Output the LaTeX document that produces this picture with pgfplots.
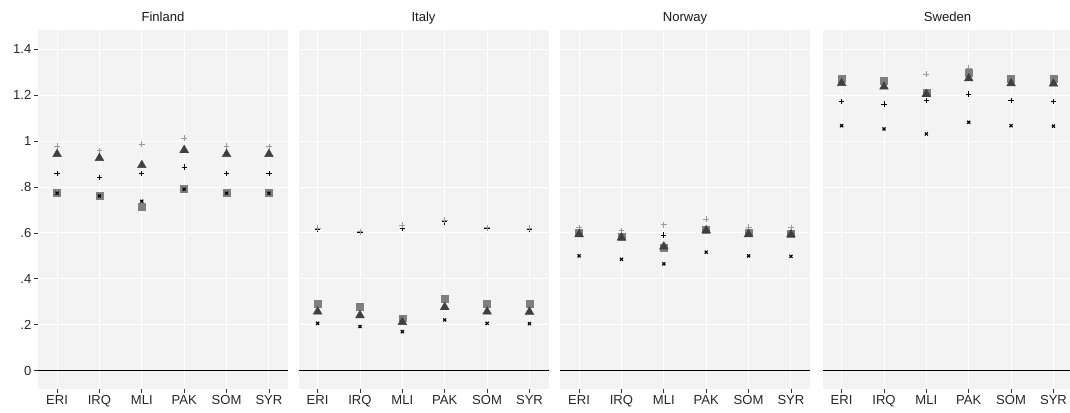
\documentclass[border=0pt]{standalone}
\usepackage{fontspec}
\setmainfont{Liberation Sans}
\usepackage{pgfplots}
\pgfplotsset{compat=1.18}
\definecolor{panelbg}{HTML}{F3F3F3}
\definecolor{lpc}{HTML}{9A9A9A}
\definecolor{sqc}{HTML}{7F7F7F}
\definecolor{trc}{HTML}{404040}
\definecolor{tickc}{HTML}{333333}
\pgfplotsset{
  panel/.style={
    scale only axis, width=187.5pt, height=269.25pt,
    xmin=-0.45, xmax=5.45, ymin=-0.08, ymax=1.484,
    axis background/.style={fill=panelbg},
    axis line style={draw=none},
    xtick={0,1,2,3,4,5},
    xticklabels={ERI,IRQ,MLI,PAK,SOM,SYR},
    ytick={0,0.2,0.4,0.6,0.8,1,1.2,1.4},
    grid=major, grid style={white, line width=0.7pt},
    tick align=outside, major tick length=3pt,
    tick style={tickc, line width=0.5pt},
    xtick pos=left, ytick pos=left,
    ticklabel style={font=\fontsize{9.8}{11}\selectfont, text=black!85},
    xticklabel style={yshift=1.5pt},
    yticklabel style={xshift=1.5pt},
    clip=false,
  },
  lp/.style={only marks, mark=+, mark size=2.2pt, lpc, mark options={line width=0.6pt}},
  bp/.style={only marks, mark=+, mark size=2pt, black, mark options={line width=0.6pt}},
  sq/.style={only marks, mark=square*, mark size=2.6pt, sqc, mark options={draw=sqc, fill=sqc}},
  tr/.style={only marks, mark=triangle*, mark size=3.7pt, trc, mark options={draw=trc, fill=trc}},
  xx/.style={only marks, mark=x, mark size=1.6pt, black, mark options={line width=0.9pt}},
}
\newcommand{\zeroline}{\draw[black, line width=0.6pt] ({rel axis cs:0,0}|-{axis cs:0,0}) -- ({rel axis cs:1,0}|-{axis cs:0,0});}
\newcommand{\paneltitle}[1]{\node[anchor=base, font=\fontsize{9.8}{11}\selectfont, text=black!90, yshift=6pt] at (rel axis cs:0.5,1) {#1};}
\begin{document}
\begin{tikzpicture}
\useasboundingbox (0,0) rectangle (802.5pt,309.75pt);
% Finland
\begin{axis}[panel, at={(28.5pt,18pt)}, anchor=south west,
  yticklabels={0,.2,.4,.6,.8,1,1.2,1.4}]
\paneltitle{Finland}
\zeroline
\addplot[bp] coordinates {(0,0.858) (1,0.842) (2,0.858) (3,0.887) (4,0.858) (5,0.858)};
\addplot[lp] coordinates {(0,0.979) (1,0.958) (2,0.986) (3,1.012) (4,0.979) (5,0.976)};
\addplot[sq] coordinates {(0,0.775) (1,0.761) (2,0.712) (3,0.793) (4,0.775) (5,0.775)};
\addplot[tr] coordinates {(0,0.943) (1,0.926) (2,0.895) (3,0.961) (4,0.943) (5,0.943)};
\addplot[xx] coordinates {(0,0.773) (1,0.761) (2,0.738) (3,0.790) (4,0.773) (5,0.773)};
\end{axis}
% Italy
\begin{axis}[panel, at={(223.9pt,18pt)}, anchor=south west,
  yticklabels={}, ytick style={draw=none}]
\paneltitle{Italy}
\zeroline
\addplot[bp] coordinates {(0,0.617) (1,0.602) (2,0.619) (3,0.648) (4,0.620) (5,0.617)};
\addplot[lp] coordinates {(0,0.620) (1,0.605) (2,0.634) (3,0.656) (4,0.623) (5,0.620)};
\addplot[sq] coordinates {(0,0.290) (1,0.277) (2,0.228) (3,0.312) (4,0.290) (5,0.290)};
\addplot[tr] coordinates {(0,0.257) (1,0.241) (2,0.211) (3,0.277) (4,0.257) (5,0.256)};
\addplot[xx] coordinates {(0,0.206) (1,0.192) (2,0.170) (3,0.221) (4,0.206) (5,0.205)};
\end{axis}
% Norway
\begin{axis}[panel, at={(420pt,18pt)}, anchor=south west,
  yticklabels={}, ytick style={draw=none}]
\paneltitle{Norway}
\zeroline
\addplot[bp] coordinates {(0,0.597) (1,0.583) (2,0.591) (3,0.613) (4,0.598) (5,0.596)};
\addplot[lp] coordinates {(0,0.623) (1,0.610) (2,0.636) (3,0.659) (4,0.625) (5,0.622)};
\addplot[sq] coordinates {(0,0.600) (1,0.585) (2,0.535) (3,0.615) (4,0.600) (5,0.598)};
\addplot[tr] coordinates {(0,0.594) (1,0.579) (2,0.540) (3,0.611) (4,0.594) (5,0.593)};
\addplot[xx] coordinates {(0,0.500) (1,0.485) (2,0.465) (3,0.516) (4,0.500) (5,0.498)};
\end{axis}
% Sweden
\begin{axis}[panel, at={(616.9pt,18pt)}, anchor=south west,
  yticklabels={}, ytick style={draw=none}]
\paneltitle{Sweden}
\zeroline
\addplot[bp] coordinates {(0,1.172) (1,1.162) (2,1.176) (3,1.205) (4,1.178) (5,1.172)};
\addplot[lp] coordinates {(0,1.275) (1,1.262) (2,1.291) (3,1.317) (4,1.275) (5,1.273)};
\addplot[sq] coordinates {(0,1.273) (1,1.262) (2,1.211) (3,1.298) (4,1.273) (5,1.273)};
\addplot[tr] coordinates {(0,1.252) (1,1.237) (2,1.205) (3,1.273) (4,1.251) (5,1.250)};
\addplot[xx] coordinates {(0,1.067) (1,1.053) (2,1.031) (3,1.082) (4,1.067) (5,1.065)};
\end{axis}
\end{tikzpicture}
\end{document}
